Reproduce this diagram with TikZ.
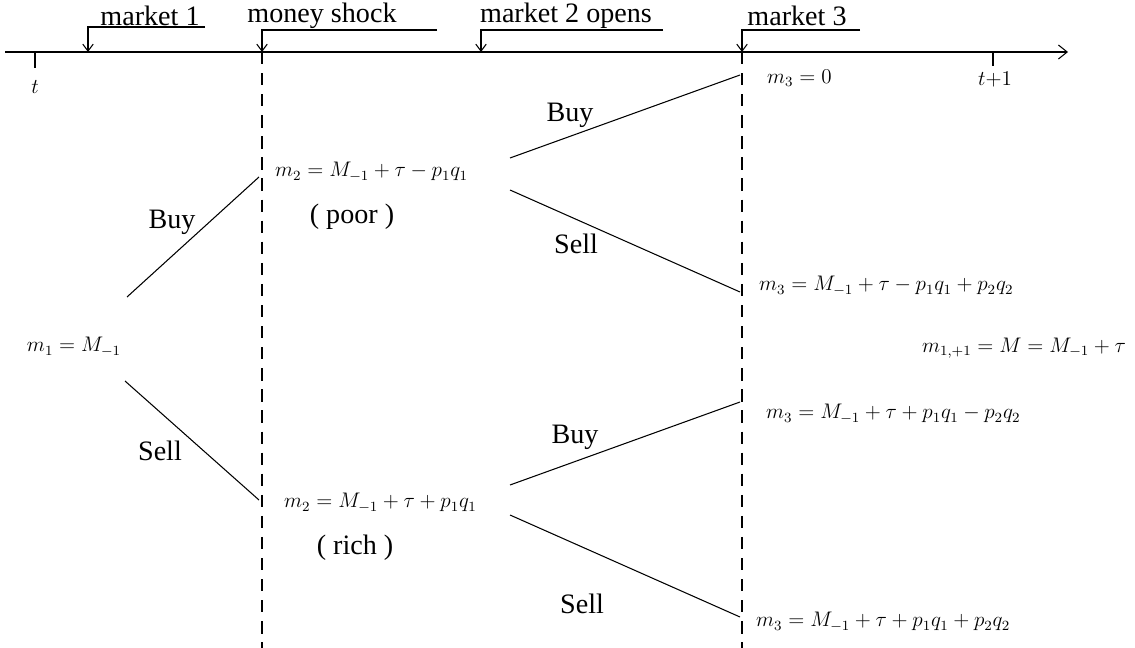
\documentclass[tikz,border=0pt]{standalone}
\usepackage{fontspec}
\setmainfont{Liberation Serif}
\usetikzlibrary{arrows.meta,positioning}
\tikzset{
  callout/.style={-{Straight Barb[length=4pt,width=6pt]},line width=0.6pt},
  branch/.style={line width=0.6pt},
  shock/.style={dashed,line width=0.6pt,dash pattern=on 7pt off 5pt},
  word/.style={font=\fontsize{16}{19}\selectfont},
  eqn/.style={font=\fontsize{11.5}{13}\selectfont,inner sep=1pt}
}

\begin{document}
\begin{tikzpicture}[x=0.02cm,y=-0.02cm]
  \useasboundingbox (0,0) rectangle (1135,648);
  % --- time axis ---
  \coordinate (ax0) at (5,52);
  \coordinate (ax1) at (1068,52);
  \draw[-{Straight Barb[length=5pt,width=8pt]},line width=0.6pt] (ax0) -- (ax1);
  \draw[line width=0.6pt] (35,52) -- (35,68);
  \node[eqn] (tlab) at (35,87) {$t$};
  \draw[line width=0.6pt] (993,52) -- (993,66);
  \node[eqn] (tnext) at (995,80) {$t{+}1$};
  % --- callouts ---
  \node[word] (mk1) at (150,16) {market 1};
  \draw[callout] (205,27) -- (88,27) -- (88,52);
  \node[word] (shk) at (322,16) {money shock};
  \draw[callout] (437,30) -- (262,30) -- (262,52);
  \node[word] (mk2) at (566,16) {market 2 opens};
  \draw[callout] (663,30) -- (481,30) -- (481,52);
  \node[word] (mk3) at (797,16) {market 3};
  \draw[callout] (860,30) -- (742,30) -- (742,52);
  % --- money shock and market 3 lines ---
  \draw[shock] (262,52) -- (262,648);
  \draw[shock] (742,52) -- (742,648);
  % --- first market ---
  \node[eqn] (m1) at (74,347) {$m_1 = M_{-1}$};
  \node[eqn,anchor=west] (m2p) at (273,172) {$m_2 = M_{-1} + \tau - p_1q_1$};
  \node[word] (poor) at (352,217) {( poor )};
  \node[eqn,anchor=west] (m2r) at (282,503) {$m_2 = M_{-1} + \tau + p_1q_1$};
  \node[word] (rich) at (355,548) {( rich )};
  \coordinate (b1s) at (127,297);
  \coordinate (b1e) at (259,177);
  \coordinate (s1s) at (125,381);
  \coordinate (s1e) at (259,500);
  \draw[branch] (b1s) -- (b1e);
  \node[word] (buy1) at (172,222) {Buy};
  \draw[branch] (s1s) -- (s1e);
  \node[word] (sell1) at (160,451) {Sell};
  % --- second market, poor ---
  \coordinate (bps) at (510,158);
  \coordinate (bpe) at (740,75);
  \coordinate (sps) at (510,190);
  \coordinate (spe) at (740,292);
  \draw[branch] (bps) -- (bpe);
  \node[word] (buyp) at (570,115) {Buy};
  \draw[branch] (sps) -- (spe);
  \node[word] (sellp) at (576,244) {Sell};
  % --- second market, rich ---
  \coordinate (brs) at (510,485);
  \coordinate (bre) at (740,402);
  \coordinate (srs) at (510,515);
  \coordinate (sre) at (740,617);
  \draw[branch] (brs) -- (bre);
  \node[word] (buyr) at (575,437) {Buy};
  \draw[branch] (srs) -- (sre);
  \node[word] (sellr) at (582,604) {Sell};
  % --- market 3 balances ---
  \node[eqn,anchor=west] (m3a) at (765,78) {$m_3 = 0$};
  \node[eqn,anchor=west] (m3b) at (757,286) {$m_3 = M_{-1} + \tau - p_1q_1 + p_2q_2$};
  \node[eqn,anchor=west] (m3c) at (764,414) {$m_3 = M_{-1} + \tau + p_1q_1 - p_2q_2$};
  \node[eqn,anchor=west] (m3d) at (754,622) {$m_3 = M_{-1} + \tau + p_1q_1 + p_2q_2$};
  \node[eqn] (mnext) at (1024,348) {$m_{1,+1} = M = M_{-1} + \tau$};
\end{tikzpicture}
\end{document}
